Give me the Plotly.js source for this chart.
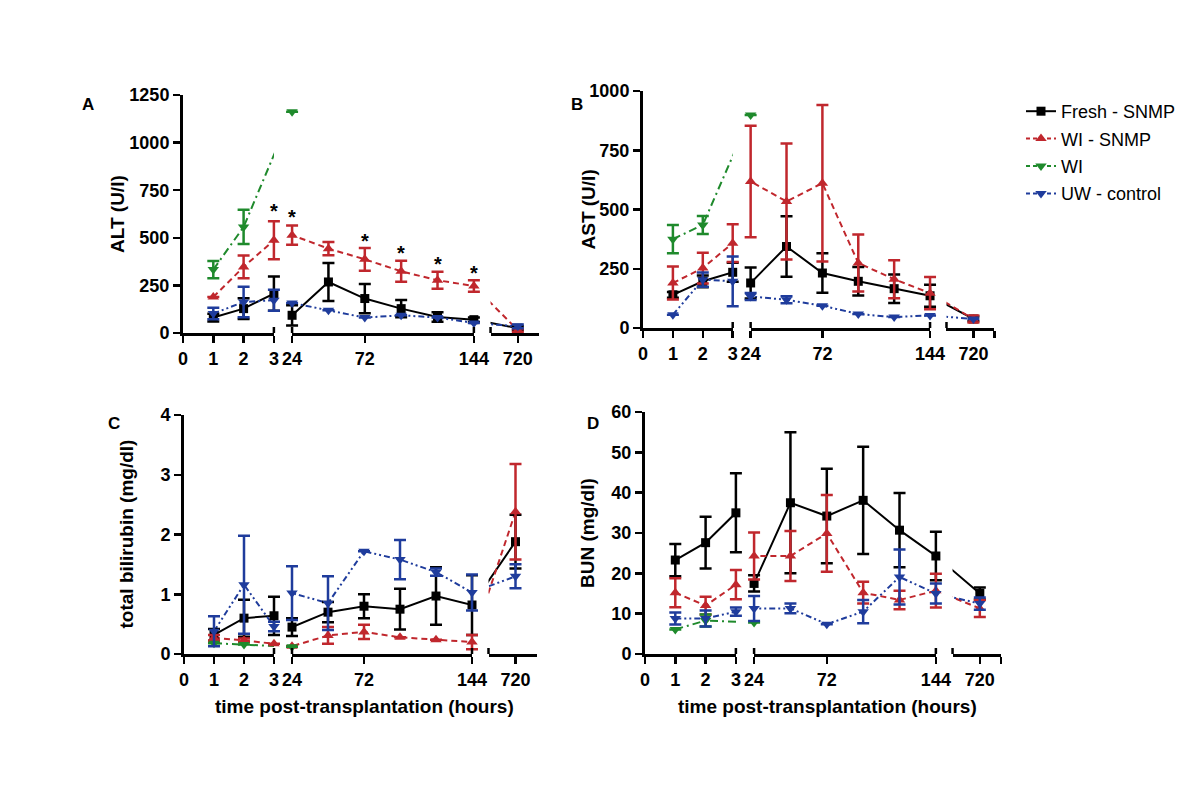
<!DOCTYPE html>
<html><head><meta charset="utf-8">
<script src="https://cdn.plot.ly/plotly-3.0.1.min.js"></script>
<style>html,body{margin:0;padding:0;background:#fff}#chart{width:1200px;height:787px}</style>
</head><body><div id="chart"></div>
<script>
// ---------------- DATA ----------------
const hours   = [1, 2, 3, 24, 48, 72, 96, 120, 144, 720];
const hoursWI = [1, 2, 24];
const seriesNames = ['Fresh - SNMP', 'WI - SNMP', 'WI', 'UW - control'];
const xTickHours  = [0, 1, 2, 3, 24, 72, 144, 720];
const xTickLabels = ['0', '1', '2', '3', '24', '72', '144', '720'];

// A: ALT (U/l)
const altFresh      = [81, 128, 207, 93, 268, 181, 128, 84, 70, 25];
const altFreshErr   = [20, 55, 90, 53, 100, 77, 45, 25, 12, 10];
const altWiSnmp     = [189, 347, 487, 514, 443, 387, 324, 277, 247, 15];
const altWiSnmpErr  = [null, 60, 100, 50, 35, 60, 55, 45, 30, 8];
const altWi         = [333, 557, 1162];
const altWiErr      = [45, 90, null];
const altUw         = [102, 163, 172, 158, 119, 81, 93, 81, 53, 35];
const altUwErr      = [30, 80, 55, null, null, null, null, null, null, 10];
const altStarHours  = [3, 24, 72, 96, 120, 144];
const altStarValues = [663, 628, 505, 443, 382, 338];

// B: AST (U/l)
const astFresh      = [140, 197, 235, 190, 344, 232, 197, 166, 136, 38];
const astFreshErr   = [12, 25, 40, 65, 128, 83, 60, 60, 46, 10];
const astWiSnmp     = [190, 253, 358, 618, 534, 611, 274, 206, 147, 38];
const astWiSnmpErr  = [70, 65, 80, 235, 245, 330, 120, 80, 68, 15];
const astWi         = [375, 435, 899];
const astWiErr      = [60, 38, null];
const astUw         = [56, 204, 197, 133, 119, 94, 59, 46, 53, 38];
const astUwErr      = [null, 30, 105, 15, 15, null, null, null, null, null];

// C: total bilirubin (mg/dl)
const bilFresh      = [0.32, 0.60, 0.64, 0.45, 0.70, 0.80, 0.75, 0.97, 0.82, 1.88];
const bilFreshErr   = [0.10, 0.31, 0.32, 0.15, 0.17, 0.20, 0.34, 0.48, 0.50, 0.45];
const bilWiSnmp     = [0.27, 0.23, 0.17, 0.13, 0.31, 0.37, 0.28, 0.24, 0.20, 2.38];
const bilWiSnmpErr  = [0.05, 0.03, null, null, 0.14, 0.12, null, null, 0.12, 0.80];
const bilWi         = [0.18, 0.16, 0.12];
const bilWiErr      = [null, null, null];
const bilUw         = [0.38, 1.16, 0.46, 1.02, 0.85, 1.72, 1.58, 1.37, 1.03, 1.30];
const bilUwErr      = [0.25, 0.82, 0.08, 0.45, 0.45, null, 0.33, 0.06, 0.30, 0.20];

// D: BUN (mg/dl)
const bunFresh      = [23.3, 27.6, 35.0, 17.5, 37.5, 34.2, 38.1, 30.7, 24.3, 15.0];
const bunFreshErr   = [4.0, 6.4, 9.8, 2.0, 17.5, 11.7, 13.3, 9.2, 6.0, 1.5];
const bunWiSnmp     = [15.2, 12.0, 17.2, 24.3, 24.3, 29.9, 15.2, 13.4, 15.7, 11.3];
const bunWiSnmpErr  = [3.6, 2.2, 3.6, 5.8, 6.2, 9.5, 2.7, 2.3, 4.2, 2.1];
const bunWi         = [6.1, 8.3, 7.8];
const bunWiErr      = [null, 1.5, null];
const bunUw         = [8.8, 8.8, 10.5, 11.3, 11.3, 7.4, 10.5, 19.1, 15.0, 12.5];
const bunUwErr      = [1.5, 2.0, 1.0, 3.1, 1.2, null, 2.9, 6.8, 2.5, 1.5];

// ---------------- STYLE / SCALE ----------------
const W = 1200, H = 787;
const FONT = 'Arial, "Liberation Sans", Helvetica, sans-serif';
const styles = [
  {color: '#000000', symbol: 'square',        size: 9,  dash: 'solid'},
  {color: '#c0272d', symbol: 'triangle-up',   size: 10, dash: '6px,4px'},
  {color: '#1f8a2c', symbol: 'triangle-down', size: 10, dash: '8px,4px,2px,4px'},
  {color: '#1f3c9c', symbol: 'triangle-down', size: 10, dash: '6px,3px,2px,3px,2px,3px'}
];
// broken axis: hour ranges mapped onto visual units
const SEGMENTS = [
  {h0: 0,     h1: 3,     p0: 0,     p1: 3},
  {h0: 24,    h1: 144,   p0: 3.6,   p1: 9.6},
  {h0: 697.5, h1: 737.5, p0: 10.15, p1: 11.75}
];
function hToPos(h) {
  for (const s of SEGMENTS) {
    if (h >= s.h0 - 1e-9 && h <= s.h1 + 1e-9) return s.p0 + (h - s.h0) * (s.p1 - s.p0) / (s.h1 - s.h0);
  }
  return null;
}
const P_END = SEGMENTS[2].p1;

const panels = [
  {letter: 'A', L: 183, u: 30.3, yb: 333, yt: 95,  ymax: 1250, dtick: 250, ytitle: 'ALT (U/l)', ytitleX: 117,
   letterPos: [88, 104], endTick: false, xTitle: false,
   series: [[hours, altFresh, altFreshErr], [hours, altWiSnmp, altWiSnmpErr], [hoursWI, altWi, altWiErr], [hours, altUw, altUwErr]]},
  {letter: 'B', L: 643, u: 29.9, yb: 328, yt: 91,  ymax: 1000, dtick: 250, ytitle: 'AST (U/l)', ytitleX: 588,
   letterPos: [577, 104], endTick: true, xTitle: false,
   series: [[hours, astFresh, astFreshErr], [hours, astWiSnmp, astWiSnmpErr], [hoursWI, astWi, astWiErr], [hours, astUw, astUwErr]]},
  {letter: 'C', L: 184, u: 30.0, yb: 654, yt: 415, ymax: 4,    dtick: 1,   ytitle: 'total bilirubin (mg/dl)', ytitleX: 126,
   letterPos: [114, 424], endTick: false, xTitle: true, xTitleX: 364,
   series: [[hours, bilFresh, bilFreshErr], [hours, bilWiSnmp, bilWiSnmpErr], [hoursWI, bilWi, bilWiErr], [hours, bilUw, bilUwErr]]},
  {letter: 'D', L: 645, u: 30.3, yb: 654, yt: 412, ymax: 60,   dtick: 10,  ytitle: 'BUN (mg/dl)', ytitleX: 587,
   letterPos: [593, 424], endTick: true, xTitle: true, xTitleX: 827,
   series: [[hours, bunFresh, bunFreshErr], [hours, bunWiSnmp, bunWiSnmpErr], [hoursWI, bunWi, bunWiErr], [hours, bunUw, bunUwErr]]}
];

const tickFont = {family: FONT, size: 18, color: '#000', weight: 'bold'};
const titleFont = {family: FONT, size: 19, color: '#000', weight: 'bold'};
const traces = [];
const layout = {
  width: W, height: H, margin: {l: 0, r: 0, t: 0, b: 0},
  paper_bgcolor: '#fff', plot_bgcolor: 'rgba(0,0,0,0)',
  showlegend: true,
  legend: {x: 1021 / W, y: 1 - 93 / H, xanchor: 'left', yanchor: 'top',
           font: {family: FONT, size: 18, color: '#000'}, itemwidth: 30,
           traceorder: 'grouped', tracegroupgap: 1, bgcolor: 'rgba(0,0,0,0)'},
  annotations: [], shapes: []
};

panels.forEach((pn, i) => {
  const yId = 'y' + (i + 1);
  const segIds = [4 * i + 1, 4 * i + 2, 4 * i + 3];
  const mId = 4 * i + 4;
  // segment axes (visible axis lines, ticks, labels)
  SEGMENTS.forEach((s, k) => {
    const tv = [], tt = [];
    xTickHours.forEach((h, j) => {
      if (h >= s.h0 && h <= s.h1) { tv.push(hToPos(h)); tt.push(xTickLabels[j]); }
    });
    if (k === 2 && pn.endTick) { tv.push(s.p1); tt.push(''); }
    layout['xaxis' + segIds[k]] = {
      domain: [(pn.L + s.p0 * pn.u) / W, (pn.L + s.p1 * pn.u) / W],
      range: [s.p0, s.p1], anchor: yId,
      showline: true, linewidth: 3, linecolor: '#000',
      ticks: 'outside', ticklen: 7, tickwidth: 2.5, tickcolor: '#000',
      tickmode: 'array', tickvals: tv, ticktext: tt, tickfont: tickFont,
      showgrid: false, zeroline: false, fixedrange: true
    };
  });
  // full-width axis for markers / error bars
  layout['xaxis' + mId] = {
    domain: [pn.L / W, (pn.L + P_END * pn.u) / W], range: [0, P_END],
    anchor: yId, visible: false, fixedrange: true
  };
  layout['yaxis' + (i + 1)] = {
    domain: [1 - pn.yb / H, 1 - pn.yt / H], range: [0, pn.ymax], anchor: 'x' + segIds[0],
    showline: true, linewidth: 3, linecolor: '#000',
    ticks: 'outside', ticklen: 7, tickwidth: 2.5, tickcolor: '#000',
    tick0: 0, dtick: pn.dtick, tickfont: tickFont,
    showgrid: false, zeroline: false, fixedrange: true
  };
  // y-axis title
  layout.annotations.push({xref: 'paper', yref: 'paper', x: pn.ytitleX / W, y: 1 - (pn.yb + pn.yt) / 2 / H,
    xanchor: 'center', yanchor: 'middle', textangle: -90, text: pn.ytitle, showarrow: false, font: titleFont});
  // lines (clipped to each segment)
  pn.series.forEach((sr, si) => {
    const st = styles[si];
    const xs = sr[0].map(hToPos);
    segIds.forEach(n => {
      traces.push({x: xs, y: sr[1], xaxis: 'x' + n, yaxis: yId, mode: 'lines',
        line: {color: st.color, width: 2, dash: st.dash}, showlegend: false, hoverinfo: 'skip'});
    });
  });
  // markers + error bars
  pn.series.forEach((sr, si) => {
    const st = styles[si];
    traces.push({x: sr[0].map(hToPos), y: sr[1], xaxis: 'x' + mId, yaxis: yId, mode: 'markers',
      name: seriesNames[si], showlegend: false, cliponaxis: false,
      marker: {symbol: st.symbol, size: st.size, color: st.color},
      error_y: {type: 'data', array: sr[2], visible: true, color: st.color, thickness: 2.5, width: 6}});
  });
  // break marks at segment boundaries
  [SEGMENTS[0].p1, SEGMENTS[1].p0, SEGMENTS[1].p1, SEGMENTS[2].p0].forEach(p => {
    layout.shapes.push({type: 'line', xref: 'x' + mId, yref: yId, ysizemode: 'pixel', yanchor: 0,
      x0: p, x1: p, y0: -7, y1: 6, line: {color: '#000', width: 2.5}});
  });
  layout.annotations.push({xref: 'paper', yref: 'paper', x: pn.letterPos[0] / W, y: 1 - pn.letterPos[1] / H,
    xanchor: 'center', yanchor: 'middle',
    text: pn.letter, showarrow: false, font: {family: FONT, size: 17, color: '#000', weight: 'bold'}});
  if (pn.xTitle) {
    layout.annotations.push({xref: 'paper', yref: 'paper', x: pn.xTitleX / W, y: 1 - 706 / H,
      xanchor: 'center', yanchor: 'middle',
      text: 'time post-transplantation (hours)', showarrow: false, font: titleFont});
  }
});

// significance asterisks (panel A, WI - SNMP)
altStarHours.forEach((h, j) => {
  layout.annotations.push({xref: 'x4', yref: 'y1', x: hToPos(h), y: altStarValues[j], yshift: -4,
    text: '*', showarrow: false, font: {family: FONT, size: 20, color: '#000', weight: 'bold'}});
});

// legend entries
seriesNames.forEach((nm, si) => {
  const st = styles[si];
  traces.push({x: [null], y: [null], xaxis: 'x4', yaxis: 'y1', mode: 'lines+markers', name: nm,
    legendgroup: 'g' + si, showlegend: true,
    line: {color: st.color, width: 2, dash: si === 0 ? 'solid' : '4px,3px'},
    marker: {symbol: st.symbol, size: st.size, color: st.color}});
});

Plotly.newPlot('chart', traces, layout, {staticPlot: true, displayModeBar: false});
</script>
</body></html>
